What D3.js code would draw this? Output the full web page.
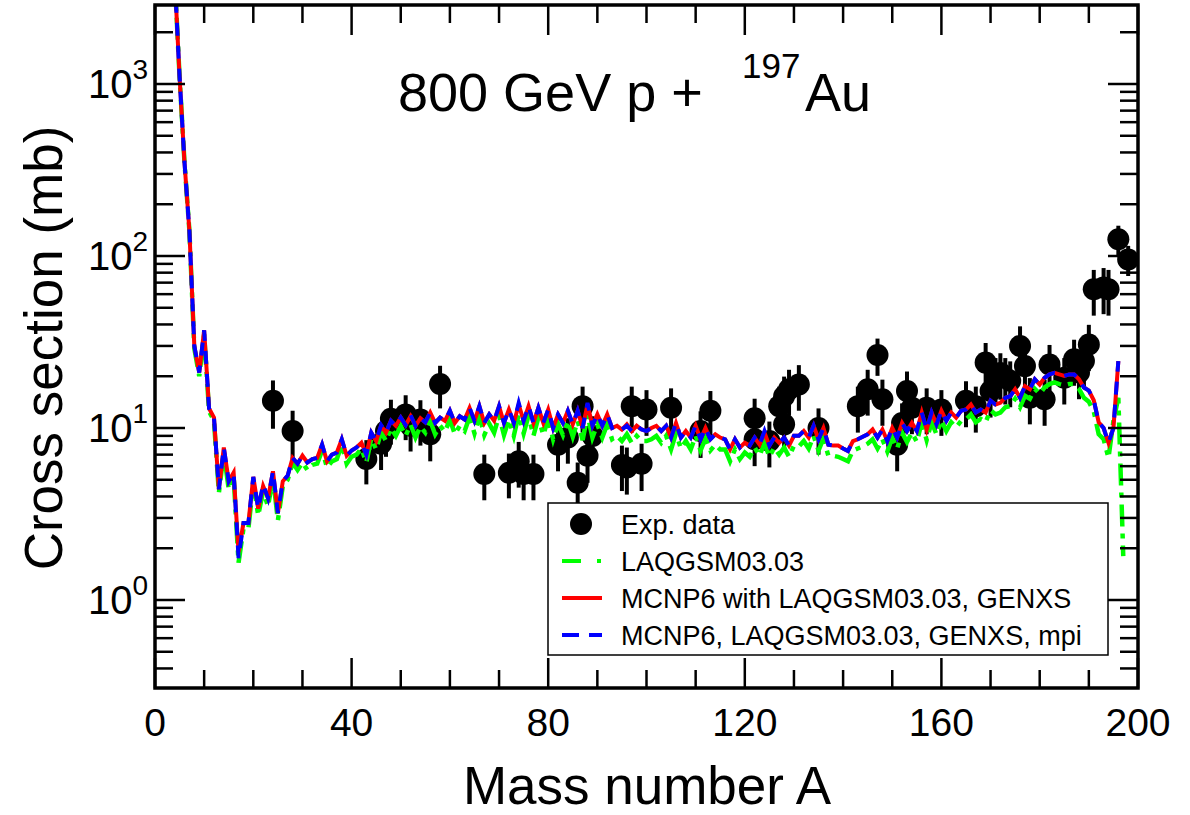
<!DOCTYPE html>
<html>
<head>
<meta charset="utf-8">
<script src="https://cdn.jsdelivr.net/npm/d3@7"></script>
<style>
  html, body { margin: 0; padding: 0; background: #fff; }
  svg { display: block; font-family: "Liberation Sans", Arial, sans-serif; }
</style>
</head>
<body>
<svg id="chart" width="1190" height="815"></svg>
<script>
// ---------------- data ----------------
const massStart = 4; // model curves start at A = 4
// MCNP6 with LAQGSM03.03, GENXS (A = 4 .. 196)
const mcnpGenxs = [4200,1100,350,140,30,21,37,13,11.5,4.4,7.7,4.9,5.5,1.9,2.8,2.8,5.2,3.4,4.6,3.9,5.6,3.2,4.9,5.3,6.7,6.2,
  6.9,6.3,6.6,6.7,8.0,6.4,7.0,7.2,8.6,6.9,
  7.4,7.7,8.2,7.0,9.4,8.4,10.3,9.4,11.0,10.3,
  11.5,10.4,11.7,10.3,11.4,10.8,12.3,10.7,11.5,11.0,
  12.6,10.7,11.7,11.2,13.1,11.0,13.4,10.7,12.0,11.0,
  13.4,10.7,12.8,10.7,13.7,11.0,13.4,10.7,13.1,10.7,
  12.8,10.0,12.0,10.7,12.6,10.5,12.6,10.0,13.7,10.3,
  12.0,10.3,12.0,10.0,10.3,9.8,10.5,9.6,10.3,9.8,
  9.6,10.0,10.3,9.6,10.3,8.8,10.7,8.8,9.6,8.8,
  10.3,8.6,10.0,8.6,9.2,8.8,8.6,7.5,8.6,7.7,
  8.2,7.9,8.8,8.0,9.4,7.9,8.8,8.2,8.8,7.9,
  9.0,9.0,9.6,8.8,10.3,8.6,10.0,8.0,7.9,7.9,
  7.6,7.35,8.4,8.6,8.9,9.2,9.8,8.8,9.8,8.4,
  10.0,8.8,10.7,9.6,10.7,9.6,12.3,9.8,12.3,10.5,
  12.6,11.0,12.3,11.5,12.6,12.8,13.7,12.3,12.8,12.3,
  14.4,13.7,14.0,15.0,15.3,16.8,15.0,17.5,16.8,19.2,
  17.9,19.6,20.5,20.9,20.5,20.1,20.5,20.5,19.2,17.2,
  16.5,14.5,10.8,10.0,8.2,10.0,24.5];
// MCNP6, LAQGSM03.03, GENXS, mpi (A = 4 .. 196)
const mcnpMpi = [4200,1100,350,140,30,21,37,13,11.5,4.4,7.7,4.9,5.5,1.75,2.8,2.8,5.2,3.4,4.7,3.9,5.6,3.2,4.9,5.3,6.7,6.2,
  6.9,6.3,6.6,6.7,8.0,6.4,7.0,7.2,8.6,6.9,
  7.4,7.7,8.2,7.0,9.4,8.4,10.4,9.4,11.0,10.3,
  11.5,10.4,11.9,10.3,11.4,10.8,12.3,10.7,11.5,11.0,
  12.6,10.7,11.7,11.2,13.1,11.0,13.4,10.7,12.0,11.0,
  13.4,10.7,12.8,10.7,14.0,11.0,13.4,10.7,13.1,10.7,
  12.8,10.0,12.0,10.7,12.6,10.5,12.6,10.0,14.0,10.3,
  12.0,10.3,12.0,10.0,10.3,9.8,10.3,9.6,10.3,9.8,
  9.6,10.0,10.3,9.6,10.3,8.8,10.7,8.8,9.6,8.8,
  10.3,8.6,10.0,8.6,9.2,8.8,8.6,7.5,8.6,7.7,
  8.2,7.9,8.8,8.0,9.6,7.9,8.8,8.2,8.8,7.9,
  9.0,9.0,9.6,8.8,10.3,8.6,10.0,8.0,7.9,7.9,
  7.6,7.35,8.4,8.6,8.9,9.2,9.8,8.8,9.8,8.4,
  10.0,8.8,10.7,9.6,10.7,9.6,12.3,9.8,12.3,10.5,
  12.6,11.0,12.3,11.5,12.6,12.8,13.7,12.3,12.8,12.3,
  14.4,13.7,14.0,15.0,15.3,16.8,15.0,17.5,16.8,19.2,
  17.9,19.6,20.5,20.9,20.5,20.1,20.5,20.5,19.2,17.2,
  16.5,14.5,10.8,10.0,8.2,10.0,24.5];
// LAQGSM03.03 (A = 4 .. 197)
const laqgsm = [4200,1100,350,140,29,20,35,12.5,11,4.2,7.2,4.4,5.2,1.65,2.6,2.6,4.8,3.1,4.3,3.5,5.2,2.9,4.6,5.0,6.3,5.7,
  6.3,5.7,6.1,6.2,7.4,5.9,6.4,6.6,8.0,6.2,
  6.8,7.0,7.6,6.3,8.7,7.5,9.5,8.4,10.0,9.0,
  10.3,9.0,10.5,8.8,10.2,9.4,11.0,9.2,10.3,9.5,
  11.2,9.2,10.3,9.6,11.6,9.3,11.8,9.1,10.6,9.4,
  11.8,9.1,11.2,9.0,12.0,9.3,11.8,9.0,11.5,9.1,
  11.3,8.6,10.6,9.1,11.0,8.9,11.0,8.5,11.9,8.8,
  10.5,8.8,10.5,8.6,9.0,8.4,9.2,8.2,9.0,8.4,
  8.4,8.6,9.0,8.2,9.0,7.5,9.3,7.6,8.4,7.5,
  9.0,7.4,8.7,7.4,8.0,7.5,7.5,6.4,7.5,6.6,
  7.2,6.8,7.7,6.9,8.2,6.8,7.7,7.0,7.7,6.8,
  7.9,7.8,8.4,7.6,9.0,7.4,8.7,6.9,6.9,6.8,
  6.6,6.4,7.4,7.6,7.8,8.1,8.6,7.6,8.6,7.3,
  8.8,7.6,9.4,8.3,9.4,8.3,10.8,8.5,10.8,9.2,
  11.1,9.6,10.8,10.1,11.0,11.2,12.0,10.8,11.3,10.8,
  12.7,12.0,12.3,13.2,13.4,14.8,13.2,15.4,14.8,16.9,
  15.8,17.2,18.0,18.4,18.0,17.7,18.0,18.0,16.9,15.0,
  14.2,12.5,9.2,8.6,6.7,11.0,15.0,1.8];
// Experimental data
const expA = [24,28,43,46,47,48,51,52,54,56,58,67,72,74,75,77,82,84,86,87,88,89,95,96,97,99,100,105,111,113,
  122,122,125,127,128,128,129,131,135,143,145,147,148,151,152,153,154,157,160,165,167,169,170,171,172,173,174,176,
  177,178,181,182,185,187,188,189,190,191,193,194,196,198];
const expV = [14.4,9.6,6.6,8.1,9.6,11.3,12.0,10.3,11.2,9.2,18.0,5.4,5.5,6.4,5.4,5.4,8.0,8.8,4.8,13.4,6.9,9.0,6.1,5.9,13.4,6.2,12.8,13.1,9.6,12.6,
  11.4,8.6,8.4,13.4,10.5,15.3,16.8,17.9,10.0,13.4,16.8,26.6,14.7,8.0,10.7,16.4,13.1,13.1,12.8,14.4,13.4,24.0,16.4,19.6,20.9,19.6,18.8,30.0,
  22.9,15.0,14.7,23.4,19.6,25.1,21.0,24.5,30.6,64,65.5,64,125,95.5];
const expErr = [4.5,3.0,1.9,2.4,2.8,3.3,3.5,3.0,3.3,2.8,5.0,1.6,1.6,1.9,1.6,1.6,2.4,2.6,1.5,4.0,2.1,2.7,1.8,1.8,4.0,1.9,3.8,3.9,2.9,3.8,
  3.4,2.6,2.5,4.0,3.1,4.6,5.0,5.3,3.0,4.0,5.0,6.5,4.4,2.4,3.2,4.9,3.9,3.9,3.8,4.3,4.0,7.2,4.9,5.9,6.3,5.9,5.6,9.0,
  6.9,4.5,4.4,7.0,5.9,7.5,6.3,7.3,9.2,19,19.6,19,25,19];
const xTickLabels = ["0","40","80","120","160","200"];
const yDecades = [0,1,2,3];
const legendLabels = ["Exp. data","LAQGSM03.03","MCNP6 with LAQGSM03.03, GENXS","MCNP6, LAQGSM03.03, GENXS, mpi"];

// ---------------- layout ----------------
const svg = d3.select("#chart");
const L = 155, R = 1138, T = 5, B = 688;
const x = d3.scaleLinear().domain([0, 200]).range([L, R]);
const y = d3.scaleLog().domain([Math.pow(10, -88/172), Math.pow(10, 3 + 79/172)]).range([B, T]);

svg.append("clipPath").attr("id", "clip").append("rect")
  .attr("x", L).attr("y", T).attr("width", R - L).attr("height", B - T);

const plot = svg.append("g").attr("clip-path", "url(#clip)");

// experimental points
const exp = expA.map((a, i) => ({a, v: expV[i], e: expErr[i]}));
plot.selectAll("line.err").data(exp).enter().append("line")
  .attr("x1", d => x(d.a)).attr("x2", d => x(d.a))
  .attr("y1", d => y(d.v + d.e)).attr("y2", d => y(Math.max(d.v - d.e, 0.01)))
  .attr("stroke", "#000").attr("stroke-width", 4);
plot.selectAll("circle.pt").data(exp).enter().append("circle")
  .attr("cx", d => x(d.a)).attr("cy", d => y(d.v)).attr("r", 11).attr("fill", "#000");

const line = d3.line().x(d => x(d.a)).y(d => y(d.v));
const toPts = arr => arr.map((v, i) => ({a: massStart + i, v}));

plot.append("path").attr("d", line(toPts(laqgsm)))
  .attr("fill", "none").attr("stroke", "#00ff00").attr("stroke-width", 4.5)
  .attr("stroke-dasharray", "22,7,5,7").attr("stroke-linejoin", "miter");
plot.append("path").attr("d", line(toPts(mcnpGenxs)))
  .attr("fill", "none").attr("stroke", "#ff0000").attr("stroke-width", 4).attr("stroke-linejoin", "miter");
plot.append("path").attr("d", line(toPts(mcnpMpi)))
  .attr("fill", "none").attr("stroke", "#0000ff").attr("stroke-width", 4)
  .attr("stroke-dasharray", "13,10").attr("stroke-linejoin", "miter");

// ---------------- axes ----------------
const axG = svg.append("g");
// x ticks (top and bottom)
const xMinor = d3.range(0, 201, 10);
xMinor.forEach(v => {
  const major = v % 40 === 0;
  const len = major ? 30 : 18;
  axG.append("line").attr("x1", x(v)).attr("x2", x(v)).attr("y1", B).attr("y2", B - len)
    .attr("stroke", "#000").attr("stroke-width", 2.5);
  axG.append("line").attr("x1", x(v)).attr("x2", x(v)).attr("y1", T).attr("y2", T + len)
    .attr("stroke", "#000").attr("stroke-width", 2.5);
});
// y ticks (left and right)
const [yLo, yHi] = y.domain();
const yTicks = [];
for (let d = -1; d <= 3; d++) for (let m = 1; m <= 9; m++) {
  const v = m * Math.pow(10, d);
  if (v >= yLo && v <= yHi) yTicks.push({v, major: m === 1});
}
yTicks.forEach(t => {
  const len = t.major ? 30 : 18;
  axG.append("line").attr("x1", L).attr("x2", L + len).attr("y1", y(t.v)).attr("y2", y(t.v))
    .attr("stroke", "#000").attr("stroke-width", 2.5);
  axG.append("line").attr("x1", R).attr("x2", R - len).attr("y1", y(t.v)).attr("y2", y(t.v))
    .attr("stroke", "#000").attr("stroke-width", 2.5);
});
// frame
axG.append("rect").attr("x", L).attr("y", T).attr("width", R - L).attr("height", B - T)
  .attr("fill", "none").attr("stroke", "#000").attr("stroke-width", 3.5);

// x tick labels
xTickLabels.forEach(s => {
  svg.append("text").attr("x", x(+s)).attr("y", 736).attr("text-anchor", "middle")
    .attr("font-size", 39).text(s);
});
// y tick labels
yDecades.forEach(p => {
  const t = svg.append("text").attr("x", 148).attr("y", y(Math.pow(10, p)) + 14)
    .attr("text-anchor", "end").attr("font-size", 40);
  t.append("tspan").text("10");
  t.append("tspan").attr("dy", -19).attr("font-size", 28).text(String(p));
});

// axis titles
svg.append("text").attr("x", 647).attr("y", 804).attr("text-anchor", "middle")
  .attr("font-size", 53).text("Mass number A");
svg.append("text").attr("transform", "translate(62,348) rotate(-90)").attr("text-anchor", "middle")
  .attr("font-size", 53).text("Cross section (mb)");

// title
svg.append("text").attr("x", 398).attr("y", 111).attr("font-size", 54).text("800 GeV p +");
svg.append("text").attr("x", 742).attr("y", 78).attr("font-size", 35).text("197");
svg.append("text").attr("x", 805).attr("y", 111).attr("font-size", 54).text("Au");

// ---------------- legend ----------------
const lg = svg.append("g");
lg.append("rect").attr("x", 548).attr("y", 503).attr("width", 560).attr("height", 152)
  .attr("fill", "#fff").attr("stroke", "#000").attr("stroke-width", 1.5);
const rowY = [524, 561, 598, 635];
lg.append("circle").attr("cx", 581).attr("cy", rowY[0]).attr("r", 11).attr("fill", "#000");
lg.append("line").attr("x1", 562).attr("x2", 602).attr("y1", rowY[1]).attr("y2", rowY[1])
  .attr("stroke", "#00ff00").attr("stroke-width", 4).attr("stroke-dasharray", "19,16,4,20");
lg.append("line").attr("x1", 562).attr("x2", 602).attr("y1", rowY[2]).attr("y2", rowY[2])
  .attr("stroke", "#ff0000").attr("stroke-width", 4);
lg.append("line").attr("x1", 562).attr("x2", 602).attr("y1", rowY[3]).attr("y2", rowY[3])
  .attr("stroke", "#0000ff").attr("stroke-width", 4).attr("stroke-dasharray", "17,10");
legendLabels.forEach((s, i) => {
  lg.append("text").attr("x", 621).attr("y", rowY[i] + 10).attr("font-size", 27).text(s);
});
</script>
</body>
</html>
